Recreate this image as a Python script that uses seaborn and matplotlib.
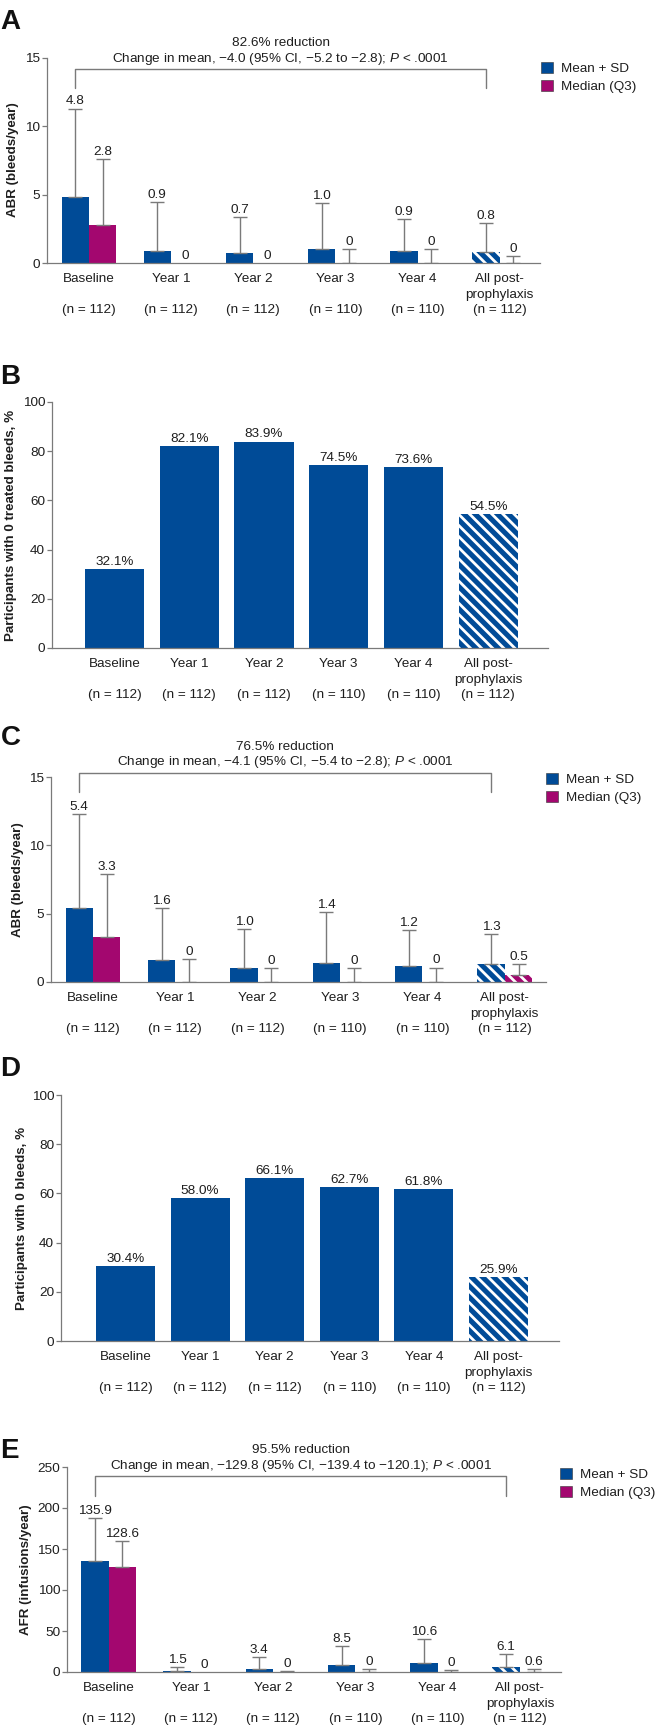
import numpy as np
import pandas as pd
import matplotlib
matplotlib.use("Agg")
import matplotlib.pyplot as plt
from matplotlib.patches import Patch
import seaborn as sns

sns.set_style("white")
plt.rcParams['font.family'] = ['Liberation Sans', 'DejaVu Sans']
plt.rcParams['mathtext.fontset'] = 'custom'
plt.rcParams['mathtext.rm'] = 'Liberation Sans'
plt.rcParams['mathtext.it'] = 'Liberation Sans:italic'
plt.rcParams['hatch.linewidth'] = 2.0

#%% data
periods = ['Baseline', 'Year 1', 'Year 2', 'Year 3', 'Year 4', 'All post-prophylaxis']
tick_labels = ['Baseline\n\n(n = 112)', 'Year 1\n\n(n = 112)', 'Year 2\n\n(n = 112)',
               'Year 3\n\n(n = 110)', 'Year 4\n\n(n = 110)', 'All post-\nprophylaxis\n(n = 112)']
stats = ['Mean + SD', 'Median (Q3)']

# A: ABR, all treated bleeds
abr_mean = [4.8, 0.9, 0.7, 1.0, 0.9, 0.8]
abr_sd = [6.5, 3.55, 2.67, 3.37, 2.33, 2.1]
abr_median = [2.8, 0, 0, 0, 0, 0]
abr_q3 = [7.6, 0, 0, 1.0, 1.0, 0.5]

# B: participants with 0 treated bleeds, %
zero_treated = [32.1, 82.1, 83.9, 74.5, 73.6, 54.5]

# C: ABR, all bleeds
abr_all_mean = [5.4, 1.6, 1.0, 1.4, 1.2, 1.3]
abr_all_sd = [6.9, 3.8, 2.9, 3.7, 2.6, 2.2]
abr_all_median = [3.3, 0, 0, 0, 0, 0.5]
abr_all_q3 = [7.9, 1.7, 1.0, 1.0, 1.05, 1.3]

# D: participants with 0 bleeds, %
zero_bleeds = [30.4, 58.0, 66.1, 62.7, 61.8, 25.9]

# E: AFR
afr_mean = [135.9, 1.5, 3.4, 8.5, 10.6, 6.1]
afr_sd = [52.1, 5.0, 14.5, 23.2, 29.6, 15.4]
afr_median = [128.6, 0, 0, 0, 0, 0.6]
afr_q3 = [160.0, 0, 1.0, 4.0, 2.8, 3.2]

BLUE = '#004b97'
MAG = '#a3076f'
GRAY = '#7a7a7a'
TXT = '#1e1e1e'
FS = 9.7
HATCH = '\\\\\\'

W, H = 655, 1730
fig = plt.figure(figsize=(W / 100, H / 100), dpi=100)


def px_axes(l, t, r, b):
    return fig.add_axes([l / W, 1 - b / H, (r - l) / W, (b - t) / H])


def style_axes(ax, xlim, ylim, yticks):
    ax.set_xlim(*xlim)
    ax.set_ylim(*ylim)
    ax.set_yticks(yticks)
    ax.set_xticks(range(len(tick_labels)))
    ax.set_xticklabels(tick_labels, linespacing=1.35)
    ax.set_xlabel('')
    ax.set_ylabel('')
    sns.despine(ax=ax)
    for s in ['left', 'bottom']:
        ax.spines[s].set_color(GRAY)
        ax.spines[s].set_linewidth(0.9)
    ax.tick_params(axis='x', length=0, pad=7.5, labelsize=FS, labelcolor=TXT)
    ax.tick_params(axis='y', left=True, length=3.5, width=0.9, color=GRAY,
                   pad=1.5, labelsize=FS, labelcolor=TXT)


def hatch_bar(rect):
    rect.set_hatch(HATCH)
    rect.set_edgecolor('white')
    rect.set_linewidth(0)


def label(v):
    return '0' if v == 0 else f'{v:.1f}'


def grouped_panel(ax, mean, sd, median, q3, xlim, ylim, yticks):
    df = pd.DataFrame({'period': periods * 2,
                       'stat': [stats[0]] * 6 + [stats[1]] * 6,
                       'value': mean + median})
    sns.barplot(data=df, x='period', y='value', hue='stat', palette=[BLUE, MAG],
                width=0.667, saturation=1, errorbar=None, legend=False,
                linewidth=0, ax=ax)
    bars = list(ax.containers)
    errs = [sd, [q - m for q, m in zip(q3, median)]]
    vals = [mean, median]
    for k, cont in enumerate(bars):
        for i, rect in enumerate(cont.patches):
            x = rect.get_x() + rect.get_width() / 2
            top = rect.get_height()
            e = errs[k][i]
            if i == 5:
                hatch_bar(rect)
            if e > 0:
                ax.errorbar(x, top, yerr=[[0], [e]], fmt='none', ecolor=GRAY,
                            elinewidth=1.0, capsize=5, capthick=1.0, zorder=3)
            ax.annotate(label(vals[k][i]), (x, top + e), xytext=(0, 3),
                        textcoords='offset points', ha='center', va='baseline',
                        fontsize=FS, color=TXT, annotation_clip=False)
    style_axes(ax, xlim, ylim, yticks)


def bracket(ax, x0, x1, top, leg, line1, line2):
    ax.plot([x0, x0, x1, x1], [leg, top, top, leg], color=GRAY, lw=1.0,
            clip_on=False, zorder=3)
    xm = (x0 + x1) / 2
    ax.annotate(line2, (xm, top), xytext=(0, 7.5), textcoords='offset points',
                ha='center', va='center', fontsize=FS, color=TXT,
                annotation_clip=False)
    ax.annotate(line1, (xm, top), xytext=(0, 18.5), textcoords='offset points',
                ha='center', va='center', fontsize=FS, color=TXT,
                annotation_clip=False)


def legend(ax, xpx, ypx):
    handles = [Patch(facecolor=BLUE, edgecolor='#333333', linewidth=0.4),
               Patch(facecolor=MAG, edgecolor='#333333', linewidth=0.4)]
    ax.legend(handles, stats, loc='upper left', bbox_to_anchor=(xpx / W, 1 - ypx / H),
              bbox_transform=fig.transFigure, frameon=False, fontsize=FS,
              handlelength=0.9, handleheight=0.9, handletextpad=0.6,
              labelspacing=0.35, borderpad=0, borderaxespad=0, labelcolor=TXT)


def simple_panel(ax, vals, xlim):
    df = pd.DataFrame({'period': periods, 'value': vals})
    sns.barplot(data=df, x='period', y='value', color=BLUE, width=0.79,
                saturation=1, errorbar=None, linewidth=0, ax=ax)
    rects = ax.containers[0].patches
    for i, rect in enumerate(rects):
        x = rect.get_x() + rect.get_width() / 2
        if i == 5:
            hatch_bar(rect)
        ax.annotate(f'{vals[i]:.1f}%', (x, rect.get_height()), xytext=(0, 3),
                    textcoords='offset points', ha='center', va='baseline',
                    fontsize=FS, color=TXT, annotation_clip=False)
    style_axes(ax, xlim, (0, 100), [0, 20, 40, 60, 80, 100])


def panel_letter(s, top):
    fig.text(0.5 / W, 1 - top / H, s, fontsize=20, fontweight='bold',
             ha='left', va='top', color='#111111')


def ylab(s, xc, yc):
    fig.text(xc / W, 1 - yc / H, s, rotation=90, ha='center', va='center',
             fontsize=9.6, fontweight='bold', color=TXT)


#%% A
axA = px_axes(47, 58, 540, 263)
grouped_panel(axA, abr_mean, abr_sd, abr_median, abr_q3, (-0.51, 5.49), (0, 15), [0, 5, 10, 15])
bracket(axA, -0.1667, 4.8333, 14.2, 12.8, '82.6% reduction',
        'Change in mean, \u22124.0 (95% CI, \u22125.2 to \u22122.8); $P$ < .0001')
legend(axA, 541, 62)
panel_letter('A', 9)
ylab('ABR (bleeds/year)', 13, 160)

#%% B
axB = px_axes(52, 402, 548, 648)
simple_panel(axB, zero_treated, (-0.837, 5.80))
panel_letter('B', 364)
ylab('Participants with 0 treated bleeds, %', 11, 525)

#%% C
axC = px_axes(51, 777, 546, 982)
grouped_panel(axC, abr_all_mean, abr_all_sd, abr_all_median, abr_all_q3, (-0.51, 5.5), (0, 15), [0, 5, 10, 15])
bracket(axC, -0.1667, 4.8333, 15.3, 13.9, '76.5% reduction',
        'Change in mean, \u22124.1 (95% CI, \u22125.4 to \u22122.8); $P$ < .0001')
legend(axC, 546, 773)
panel_letter('C', 725)
ylab('ABR (bleeds/year)', 18, 880)

#%% D
axD = px_axes(61, 1095, 559, 1341)
simple_panel(axD, zero_bleeds, (-0.865, 5.81))
panel_letter('D', 1056)
ylab('Participants with 0 bleeds, %', 22, 1218)

#%% E
axE = px_axes(67, 1467, 561, 1672)
grouped_panel(axE, afr_mean, afr_sd, afr_median, afr_q3, (-0.506, 5.5), (0, 250), [0, 50, 100, 150, 200, 250])
bracket(axE, -0.1667, 4.8333, 239, 214.6, '95.5% reduction',
        'Change in mean, \u2212129.8 (95% CI, \u2212139.4 to \u2212120.1); $P$ < .0001')
legend(axE, 560, 1468)
panel_letter('E', 1438)
ylab('AFR (infusions/year)', 26, 1570)

fig.savefig('out.png', dpi=100)
